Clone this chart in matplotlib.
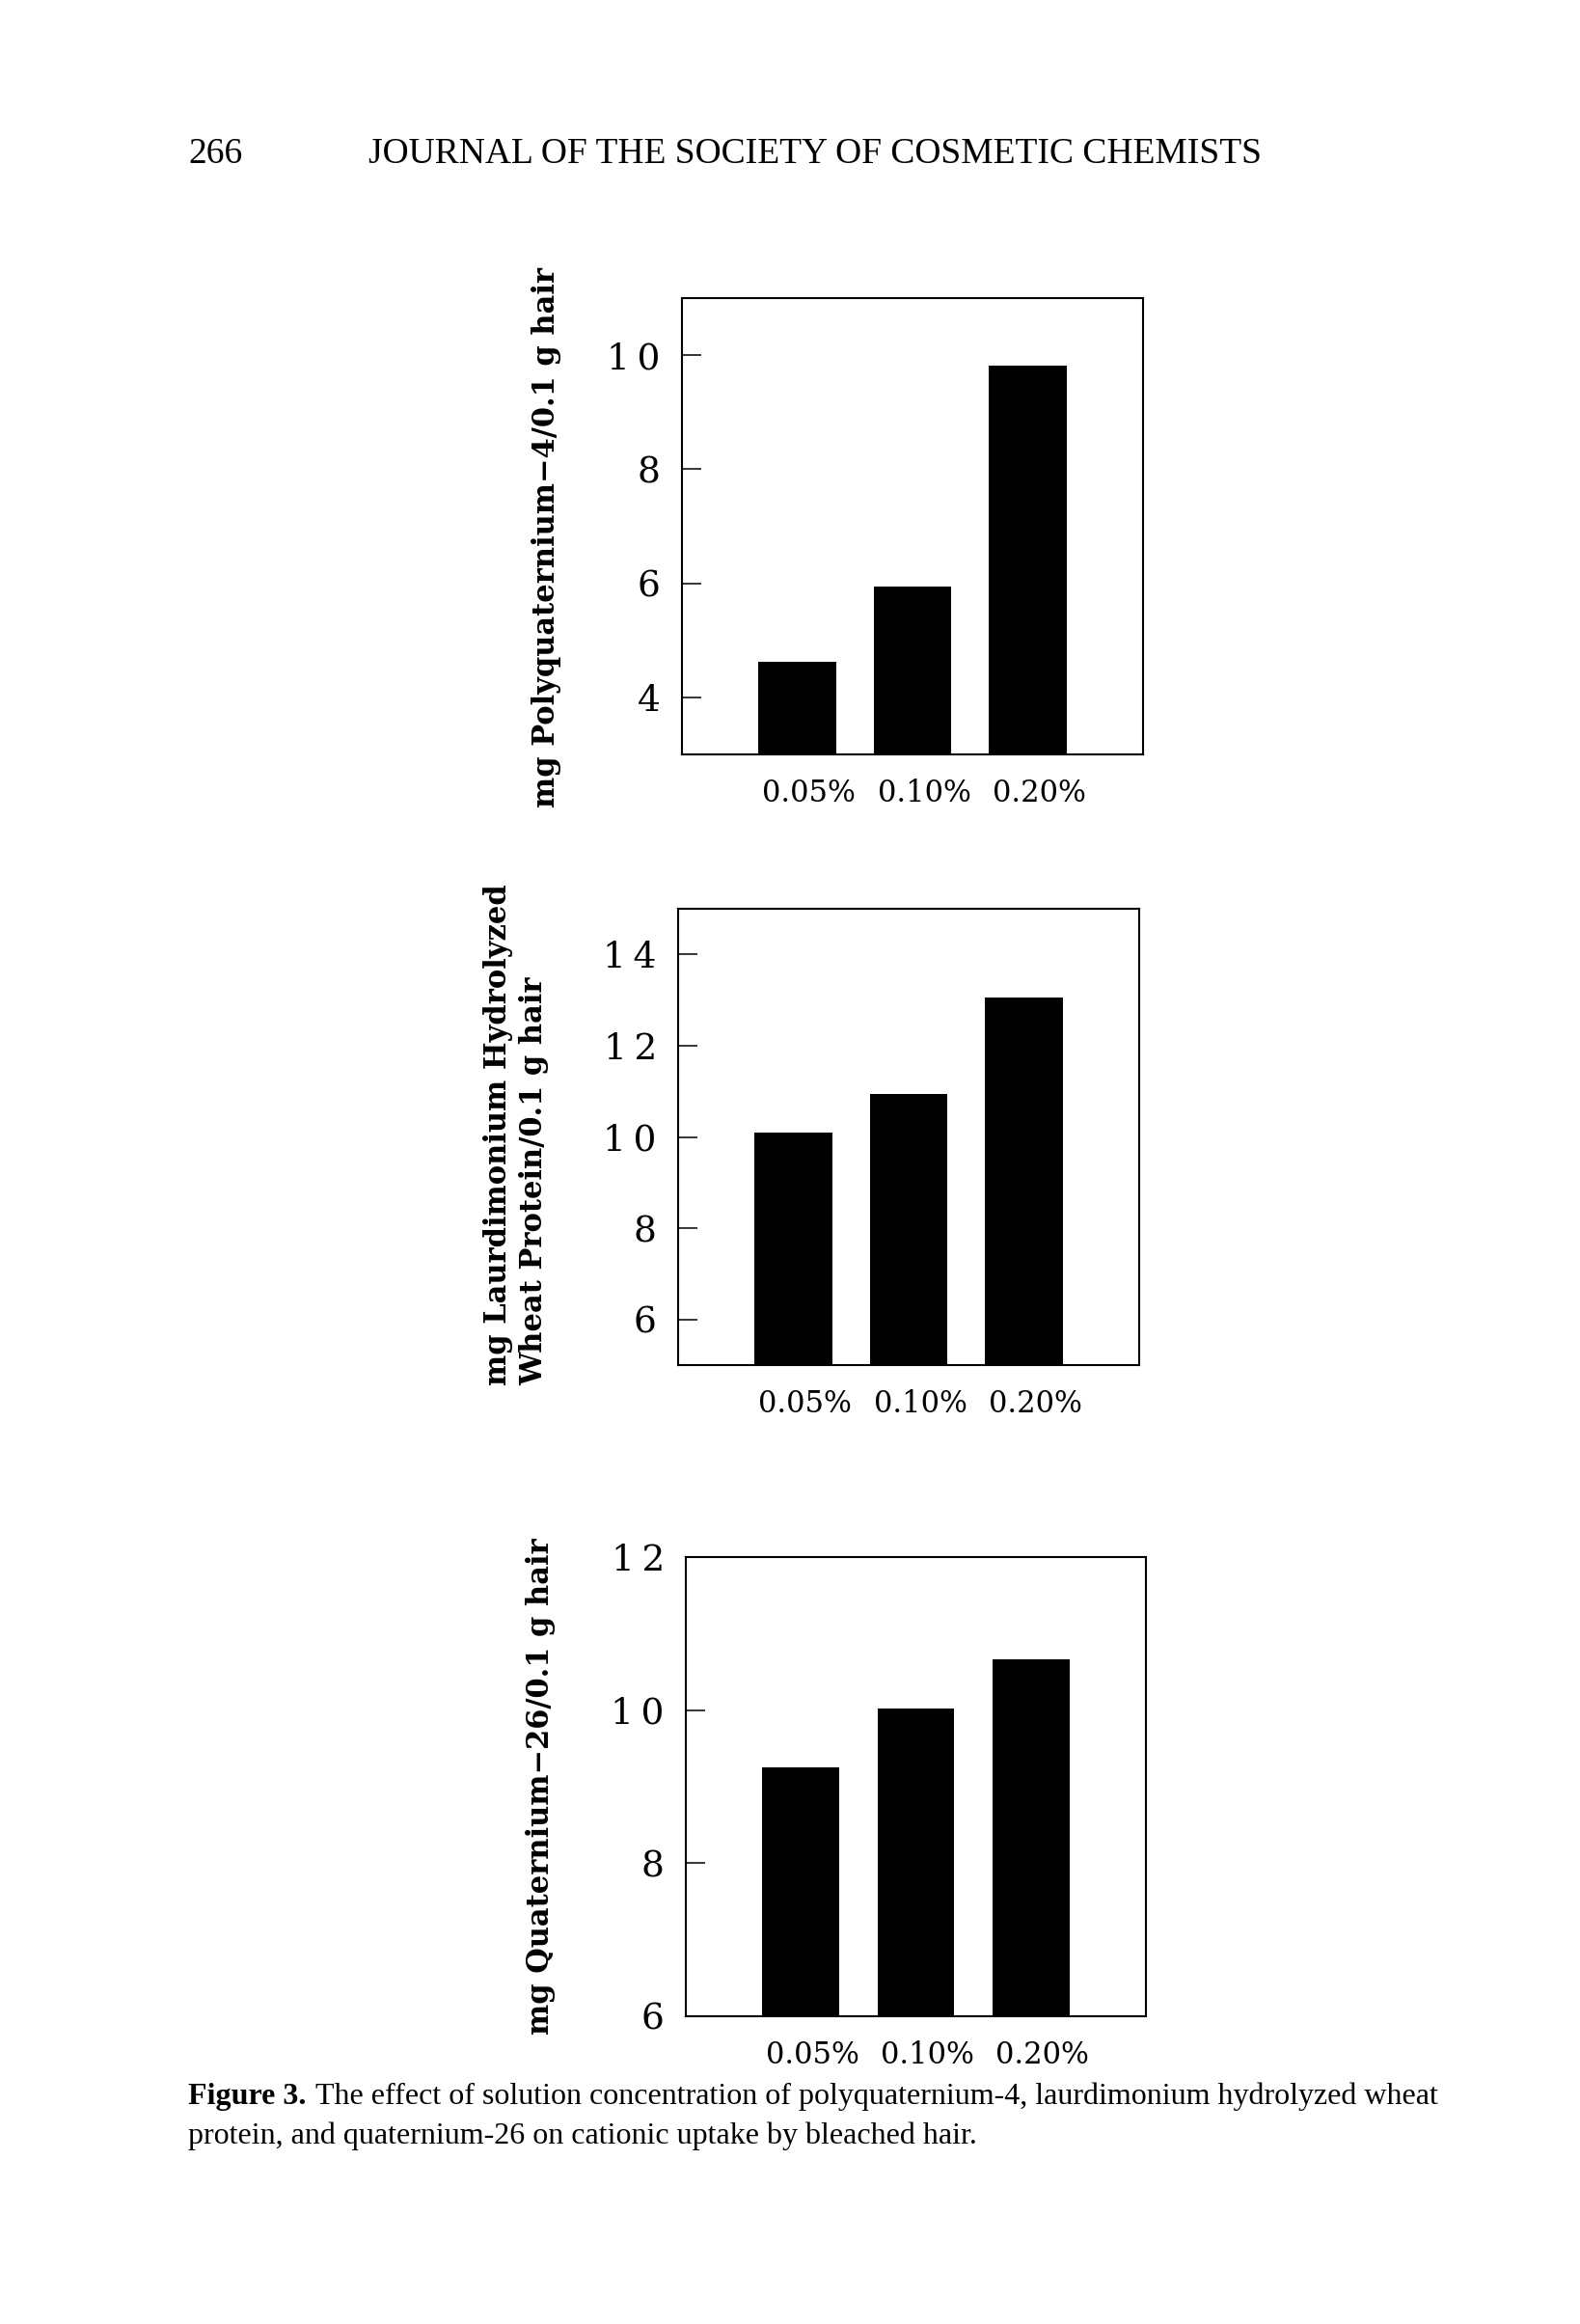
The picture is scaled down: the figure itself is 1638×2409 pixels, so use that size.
import matplotlib
matplotlib.use("Agg")
import matplotlib.pyplot as plt
from matplotlib.transforms import ScaledTranslation

# concentrations on the x axis (same for all three panels)
concentrations = ["0.05%", "0.10%", "0.20%"]

# uptake values
polyquat4 = [4.63, 5.95, 9.81]
laurdimonium = [10.1, 10.95, 13.05]
quat26 = [9.25, 10.02, 10.67]

yticks_polyquat4 = [4, 6, 8, 10]
yticks_laurdimonium = [6, 8, 10, 12, 14]
yticks_quat26 = [6, 8, 10, 12]

W, H = 1638, 2409
DPI = 100

def px_box(x0, y0, x1, y1):
    # pixel box (top-left origin) -> figure fraction rect
    return [x0 / W, 1 - y1 / H, (x1 - x0) / W, (y1 - y0) / H]

def draw_panel(fig, rect, values, ylim, yticks):
    ax = fig.add_axes(rect)
    pos = range(1, len(values) + 1)
    ax.bar(pos, values, width=0.67, color="black", edgecolor="none")
    ax.set_xlim(0, 4)
    ax.set_ylim(*ylim)
    ax.set_yticks(yticks)
    # the original digits are loosely spaced
    ax.set_yticklabels(["\u2009".join(str(t)) for t in yticks], family="DejaVu Serif", fontsize=27)
    ax.set_xticks(list(pos))
    ax.set_xticklabels(concentrations, family="DejaVu Serif", fontsize=22)
    ax.tick_params(axis="y", direction="in", length=14.4, width=1.1, pad=16)
    ax.tick_params(axis="x", length=0, pad=18)
    shift = ScaledTranslation(12 / DPI, 0, fig.dpi_scale_trans)
    for lab in ax.get_xticklabels():
        lab.set_transform(lab.get_transform() + shift)
    for sp in ax.spines.values():
        sp.set_linewidth(1.5)
    return ax

fig = plt.figure(figsize=(W / DPI, H / DPI), dpi=DPI)

draw_panel(fig, px_box(707, 309, 1185, 782), polyquat4, (3, 11), yticks_polyquat4)
draw_panel(fig, px_box(703, 942, 1181, 1415), laurdimonium, (5, 15), yticks_laurdimonium)
draw_panel(fig, px_box(711, 1614, 1188, 2090), quat26, (6, 12), yticks_quat26)

lab_kw = dict(family="DejaVu Serif", fontweight="bold", fontsize=22, rotation=90)
fig.text(567 / W, 1 - 557 / H, "mg Polyquaternium\u22124/0.1 g hair",
         ha="center", va="center", **lab_kw)
fig.text(535 / W, 1 - 1176 / H, "mg Laurdimonium Hydrolyzed\nWheat Protein/0.1 g hair",
         ha="center", va="center", multialignment="left", linespacing=1.25, **lab_kw)
fig.text(561 / W, 1 - 1852 / H, "mg Quaternium\u221226/0.1 g hair",
         ha="center", va="center", **lab_kw)

# page header
serif = "Liberation Serif"
fig.text(195 / W, 1 - 160 / H, "266", family=serif, fontsize=27, va="center")
fig.text(382 / W, 1 - 160 / H, "JOURNAL OF THE SOCIETY OF COSMETIC CHEMISTS",
         family=serif, fontsize=27, va="center")

# caption
bg = fig.add_axes([0, 0, 1, 1], zorder=-1)
bg.axis("off")
t1 = fig.text(195 / W, 1 - 2181 / H, "Figure 3.", family=serif, fontweight="bold",
              fontsize=23, va="baseline")
bg.annotate("The effect of solution concentration of polyquaternium-4, laurdimonium hydrolyzed wheat",
            xy=(1, 0), xycoords=t1, xytext=(7, 0), textcoords="offset points",
            family=serif, fontsize=23, va="bottom")
fig.text(195 / W, 1 - 2222 / H,
         "protein, and quaternium-26 on cationic uptake by bleached hair.",
         family=serif, fontsize=23, va="baseline")

fig.savefig("out.png", dpi=DPI)
